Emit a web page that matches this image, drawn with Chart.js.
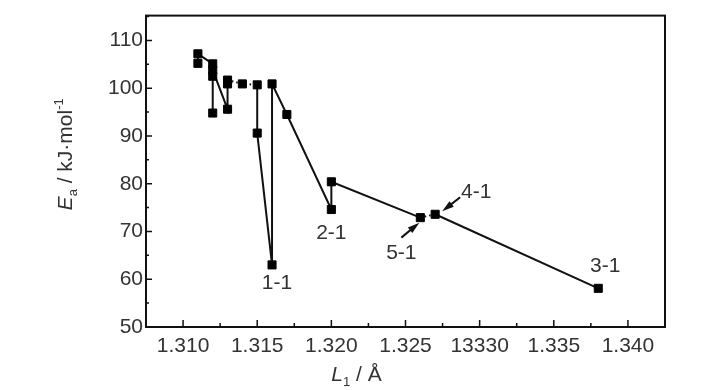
<!DOCTYPE html>
<html>
<head>
<meta charset="utf-8">
<script src="https://cdn.jsdelivr.net/npm/chart.js@4"></script>
<style>
  html, body { margin: 0; background: #fff; }
  #wrap { width: 728px; height: 390px; }
</style>
</head>
<body>
<div id="wrap"><canvas id="chart"></canvas></div>
<script>
// === data ===
const lengths = [1.311, 1.311, 1.312, 1.312, 1.312, 1.312, 1.313, 1.313, 1.313, 1.314,
                 1.315, 1.315, 1.316, 1.316, 1.317, 1.320, 1.320, 1.326, 1.327, 1.338];
const energies = [105.2, 107.2, 105.1, 102.5, 94.8, 103.8, 95.6, 100.9, 101.7, 100.9,
                  100.7, 90.6, 63.0, 100.9, 94.5, 74.6, 80.4, 72.9, 73.6, 58.1];
// segments (by start index) drawn dotted
const dottedSegments = [8, 9, 17];

const xTickValues = [1.310, 1.315, 1.320, 1.325, 1.330, 1.335, 1.340];
const xTickLabels = ["1.310", "1.315", "1.320", "1.325", "13330", "1.335", "1.340"];
const yTickValues = [50, 60, 70, 80, 90, 100, 110];

// labelled points: name + index into the series
const tagNames = ["1-1", "2-1", "5-1", "4-1", "3-1"];
const tagPoints = [12, 15, 17, 18, 19];

const FONT = "'Liberation Sans Narrow', 'Arial Narrow', 'Liberation Sans', sans-serif";
const TXT = "#333";

// label offsets in px and arrows (tail dx,dy -> tip dx,dy) per tag
const tagOffsets = [[5, 18], [0, 24], [-19, 36], [41, -22], [7, -22]];
const tagArrows = [null, null, [[-19, 20], [-1, 5]], [[25, -17], [7, -3]], null];

const points = lengths.map((x, i) => ({ x: x, y: energies[i] }));

function mixedText(ctx, parts, size) {
    let w = 0;
    parts.forEach(p => {
        const s = p.sub || p.sup ? size * 0.62 : size;
        ctx.font = (p.it ? "italic " : "") + s + "px " + FONT;
        p.w = ctx.measureText(p.t).width;
        p.s = s;
        w += p.w;
    });
    let x = -w / 2;
    parts.forEach(p => {
        ctx.font = (p.it ? "italic " : "") + p.s + "px " + FONT;
        const dy = p.sub ? size * 0.22 : p.sup ? -size * 0.45 : 0;
        ctx.fillText(p.t, x, dy);
        x += p.w;
    });
}

const decor = {
    id: "decor",
    afterDraw(chart) {
        const ctx = chart.ctx;
        const a = chart.chartArea;
        const xs = chart.scales.x, ys = chart.scales.y;
        ctx.save();
        ctx.strokeStyle = "#111";
        ctx.lineWidth = 2;
        ctx.strokeRect(a.left, a.top, a.right - a.left, a.bottom - a.top);

        // inward ticks
        ctx.lineWidth = 1.5;
        ctx.beginPath();
        xs.ticks.forEach(t => {
            const px = xs.getPixelForValue(t.value);
            const major = xTickValues.some(v => Math.abs(v - t.value) < 1e-6);
            ctx.moveTo(px, a.bottom);
            ctx.lineTo(px, a.bottom - (major ? 7 : 4));
        });
        ys.ticks.forEach(t => {
            const py = ys.getPixelForValue(t.value);
            const major = yTickValues.includes(t.value);
            ctx.moveTo(a.left, py);
            ctx.lineTo(a.left + (major ? 6 : 3), py);
        });
        ctx.stroke();

        // tags and arrows
        ctx.fillStyle = TXT;
        ctx.font = "21px " + FONT;
        ctx.textAlign = "center";
        ctx.textBaseline = "middle";
        tagNames.forEach((name, i) => {
            const p = points[tagPoints[i]];
            const px = xs.getPixelForValue(p.x), py = ys.getPixelForValue(p.y);
            ctx.fillText(name, px + tagOffsets[i][0], py + tagOffsets[i][1]);
            const ar = tagArrows[i];
            if (ar) {
                const x0 = px + ar[0][0], y0 = py + ar[0][1];
                const x1 = px + ar[1][0], y1 = py + ar[1][1];
                const ang = Math.atan2(y1 - y0, x1 - x0);
                ctx.strokeStyle = "#111";
                ctx.lineWidth = 2;
                ctx.beginPath();
                ctx.moveTo(x0, y0);
                ctx.lineTo(x1 - 8 * Math.cos(ang), y1 - 8 * Math.sin(ang));
                ctx.stroke();
                ctx.fillStyle = "#111";
                ctx.beginPath();
                ctx.moveTo(x1, y1);
                ctx.lineTo(x1 - 12 * Math.cos(ang) + 3.5 * Math.sin(ang), y1 - 12 * Math.sin(ang) - 3.5 * Math.cos(ang));
                ctx.lineTo(x1 - 12 * Math.cos(ang) - 3.5 * Math.sin(ang), y1 - 12 * Math.sin(ang) + 3.5 * Math.cos(ang));
                ctx.closePath();
                ctx.fill();
                ctx.fillStyle = TXT;
            }
        });

        // axis titles
        ctx.textAlign = "left";
        ctx.textBaseline = "alphabetic";
        ctx.save();
        ctx.translate((a.left + a.right) / 2 - 49, a.bottom + 54);
        mixedText(ctx, [{ t: "L", it: true }, { t: "1", sub: true }, { t: " / Å" }], 21);
        ctx.restore();
        ctx.save();
        ctx.translate(72, (a.top + a.bottom) / 2 - 17);
        ctx.rotate(-Math.PI / 2);
        mixedText(ctx, [{ t: "E", it: true }, { t: "a", sub: true }, { t: " / kJ·mol" }, { t: "-1", sup: true }], 21);
        ctx.restore();
        ctx.restore();
    }
};

new Chart(document.getElementById("chart"), {
    type: "scatter",
    data: {
        datasets: [{
            data: points,
            showLine: true,
            borderColor: "#111",
            borderWidth: 2,
            backgroundColor: "#000",
            pointBackgroundColor: "#000",
            pointBorderColor: "#000",
            pointBorderWidth: 1,
            pointStyle: "rect",
            pointRadius: 5.7,
            pointHoverRadius: 5.7,
            clip: false,
            segment: {
                borderDash: c => dottedSegments.includes(c.p0DataIndex) ? [1.5, 3] : undefined,
            },
        }],
    },
    options: {
        responsive: true,
        maintainAspectRatio: false,
        animation: false,
        layout: { padding: { left: 0, top: 15, right: 63, bottom: 0 } },
        scales: {
            x: {
                type: "linear",
                min: 1.3075,
                max: 1.3425,
                afterBuildTicks: s => {
                    const t = [];
                    xTickValues.forEach(v => { t.push({ value: v }); t.push({ value: v + 0.0025 }); });
                    s.ticks = t;
                },
                afterFit: s => { s.height = 63; },
                grid: { display: false, drawTicks: false },
                border: { display: false },
                ticks: {
                    autoSkip: false,
                    maxRotation: 0,
                    padding: 7,
                    color: TXT,
                    font: { family: FONT, size: 21 },
                    callback: v => {
                        const i = xTickValues.findIndex(u => Math.abs(u - v) < 1e-6);
                        return i >= 0 ? xTickLabels[i] : "";
                    },
                },
            },
            y: {
                min: 50,
                max: 115.2,
                afterBuildTicks: s => {
                    const t = [];
                    yTickValues.forEach(v => { t.push({ value: v }); t.push({ value: v + 5 }); });
                    s.ticks = t;
                },
                afterFit: s => { s.width = 146; },
                grid: { display: false, drawTicks: false },
                border: { display: false },
                ticks: {
                    autoSkip: false,
                    padding: 3,
                    color: TXT,
                    font: { family: FONT, size: 21 },
                    callback: v => yTickValues.includes(v) ? String(v) : "",
                },
            },
        },
        plugins: {
            legend: { display: false },
            tooltip: { enabled: false },
        },
    },
    plugins: [decor],
});
</script>
</body>
</html>
